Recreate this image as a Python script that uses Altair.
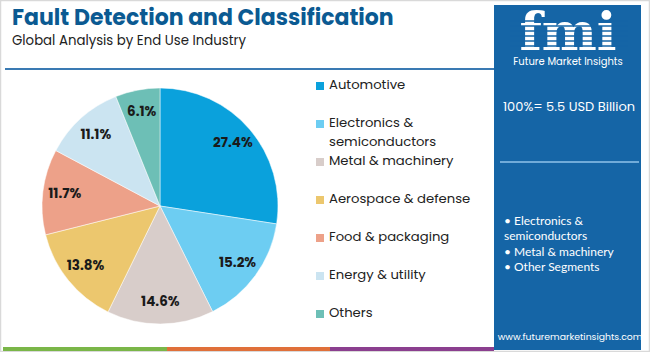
import altair as alt
import pandas as pd

# ---- data ----
categories = ["Automotive", "Electronics & semiconductors", "Metal & machinery",
              "Aerospace & defense", "Food & packaging", "Energy & utility", "Others"]
shares = [27.4, 15.2, 14.6, 13.8, 11.7, 11.1, 6.1]
legend_labels = ["Automotive", "Electronics &\nsemiconductors", "Metal & machinery",
                 "Aerospace & defense", "Food & packaging", "Energy & utility", "Others"]
colors = ["#0aa1dc", "#6dcdf2", "#d8cdca", "#ecc76e", "#eda189", "#cbe4f1", "#6dbfb6"]

title_text = "Fault Detection and Classification"
subtitle_text = "Global Analysis by End Use Industry"
total_text = "100%= 5.5 USD Billion"
bullets = ["• Electronics &", "semiconductors", "• Metal & machinery", "• Other Segments"]
url_text = "www.futuremarketinsights.com"

df = pd.DataFrame({
    "cat": categories,
    "value": shares,
    "idx": list(range(len(categories))),
    "label": [f"{v}%" for v in shares],
    "legend": legend_labels,
})
one = pd.DataFrame({"a": [0]})

color_scale = alt.Scale(domain=categories, range=colors)
CX, CY, R = 160, 206, 118
FONT = "Poppins, Lato, Noto Sans, sans-serif"
PANEL = "#1565a6"

base1 = alt.Chart(one)

frame = base1.mark_rect(fill="white", stroke="#d9d9d9", strokeWidth=1.5).encode(
    x=alt.value(0.5), x2=alt.value(649.5), y=alt.value(0.5), y2=alt.value(351.5))

panel = base1.mark_rect(fill=PANEL).encode(
    x=alt.value(494), x2=alt.value(641), y=alt.value(5), y2=alt.value(350))

bar_g = base1.mark_rect(fill="#7ab648").encode(
    x=alt.value(3), x2=alt.value(167), y=alt.value(347), y2=alt.value(351))
bar_o = base1.mark_rect(fill="#e0703a").encode(
    x=alt.value(167), x2=alt.value(330), y=alt.value(347), y2=alt.value(351))
bar_p = base1.mark_rect(fill="#8b3f8f").encode(
    x=alt.value(330), x2=alt.value(494), y=alt.value(347), y2=alt.value(351))

hline = base1.mark_rule(stroke="#3a7ab3", strokeWidth=2).encode(
    x=alt.value(5), x2=alt.value(494), y=alt.value(69))

title = base1.mark_text(text=title_text, font=FONT, fontSize=22, fontWeight="bold",
                        color="#0b5a92", align="left", baseline="alphabetic").encode(
    x=alt.value(12), y=alt.value(25))
subtitle = base1.mark_text(text=subtitle_text, font=FONT, fontSize=13.3,
                           color="#222222", align="left", baseline="alphabetic").encode(
    x=alt.value(12), y=alt.value(45))

# pie
pie = alt.Chart(df).mark_arc(outerRadius=R, stroke="white", strokeWidth=0.5).encode(
    theta=alt.Theta("value:Q", stack=True),
    order=alt.Order("idx:Q"),
    color=alt.Color("cat:N", scale=color_scale, legend=None),
    x=alt.value(CX), y=alt.value(CY),
)
pie_labels = alt.Chart(df).mark_text(radius=96, font=FONT, fontSize=13.5, fontWeight="bold",
                                     color="#1a1a1a").encode(
    theta=alt.Theta("value:Q", stack=True),
    order=alt.Order("idx:Q"),
    text="label:N",
    x=alt.value(CX), y=alt.value(CY),
)

# legend
leg_y = alt.Y("cat:N", scale=alt.Scale(type="point", domain=categories, range=[86, 314], padding=0),
              axis=None)
leg_sq = alt.Chart(df).mark_square(size=64, opacity=1).encode(
    x=alt.value(320), y=leg_y,
    color=alt.Color("cat:N", scale=color_scale, legend=None),
)
leg_txt = alt.Chart(df).mark_text(font=FONT, fontSize=13.2, color="#222222", align="left",
                                  baseline="top", dy=-7, lineBreak="\n", lineHeight=19).encode(
    x=alt.value(329), y=leg_y, text="legend:N",
)

# right panel text
logo = base1.mark_text(text="fmi", font="DejaVu Serif", fontSize=52, fontWeight="bold",
                       color="white", align="center", baseline="alphabetic").encode(
    x=alt.value(568), y=alt.value(50))
stripe_df = pd.DataFrame({"s": [0, 1, 2, 3, 4, 5]})
stripes = alt.Chart(stripe_df).mark_rule(stroke=PANEL, strokeWidth=1.6).encode(
    x=alt.value(510), x2=alt.value(628),
    y=alt.Y("s:O", scale=alt.Scale(type="point", domain=[0, 1, 2, 3, 4, 5], range=[21, 46], padding=0),
            axis=None),
)
logo_sub = base1.mark_text(text="Future Market Insights", font=FONT, fontSize=10,
                           color="white", align="center").encode(
    x=alt.value(568), y=alt.value(62))
total = base1.mark_text(text=total_text, font=FONT, fontSize=13, color="white",
                        align="center").encode(x=alt.value(569), y=alt.value(107))
pline = base1.mark_rule(stroke="#8fc3ea", strokeWidth=1.5).encode(
    x=alt.value(500), x2=alt.value(639), y=alt.value(162))
bl = pd.DataFrame({"t": bullets, "i": list(range(len(bullets)))})
bullet_txt = alt.Chart(bl).mark_text(font="Lato", fontSize=12, color="white", align="left").encode(
    x=alt.value(504),
    y=alt.Y("i:O", scale=alt.Scale(type="point", domain=[0, 1, 2, 3], range=[221, 267], padding=0),
            axis=None),
    text="t:N",
)
url = base1.mark_text(text=url_text, font=FONT, fontSize=9.3, color="white",
                      align="center").encode(x=alt.value(570), y=alt.value(337))

chart = alt.layer(
    frame, panel, bar_g, bar_o, bar_p, hline, title, subtitle,
    pie, pie_labels, leg_sq, leg_txt,
    logo, stripes, logo_sub, total, pline, bullet_txt, url,
).resolve_scale(y="independent").properties(
    width=650, height=352, padding=0,
    autosize=alt.AutoSizeParams(type="none"),
    background="white",
).configure_view(stroke=None)

chart.save("out.html", embed_options={"renderer": "svg", "actions": False})
